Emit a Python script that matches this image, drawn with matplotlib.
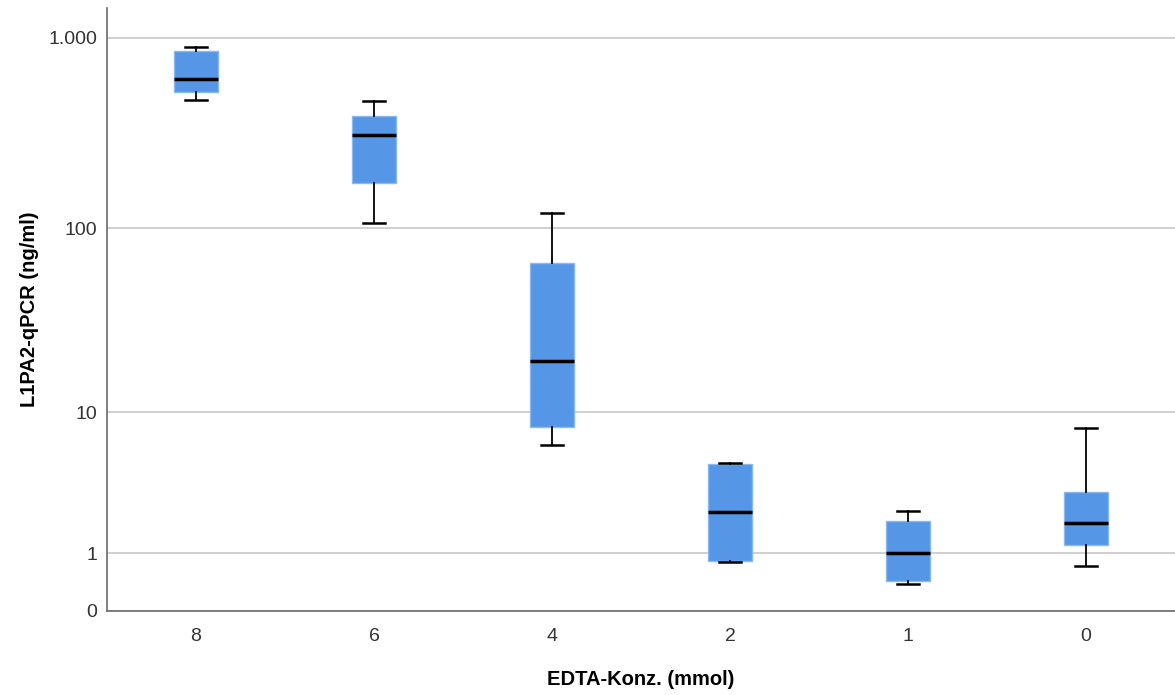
import numpy as np
import matplotlib.pyplot as plt

plt.rcParams['font.family'] = ['Liberation Sans', 'DejaVu Sans']

# data (ng/ml)
groups = ["8", "6", "4", "2", "1", "0"]
whis_lo = [473, 106, 6.4, 0.81, 0.38, 0.72]
q1 = [521, 173, 8.2, 0.83, 0.44, 1.22]
med = [610, 310, 19.4, 2.30, 1.00, 1.90]
q3 = [855, 390, 65, 4.9, 1.96, 3.2]
whis_hi = [897, 468, 120, 4.96, 2.34, 8.1]

ytick_vals = [0, 1, 10, 100, 1000]
ytick_labels = ["0", "1", "10", "100", "1.000"]

def fwd(y):
    return np.log10(np.clip(y, 0, None) + 1)

def inv(y):
    return 10 ** y - 1

fig = plt.figure(figsize=(11.75, 6.95), dpi=100)
ax = fig.add_axes([0.0911, 0.1209, 0.9089, 0.8676])
ax.set_yscale('function', functions=(fwd, inv))

stats = []
for i in range(len(groups)):
    stats.append(dict(label=groups[i], whislo=whis_lo[i], q1=q1[i], med=med[i],
                      q3=q3[i], whishi=whis_hi[i], fliers=[]))

ax.bxp(stats, positions=np.arange(len(groups)), widths=0.25, patch_artist=True,
       showfliers=False,
       boxprops=dict(facecolor='#5596e6', edgecolor='#8ab8f0', linewidth=1),
       medianprops=dict(color='black', linewidth=2.5),
       whiskerprops=dict(color='black', linewidth=1.3),
       capprops=dict(color='black', linewidth=1.8),
       capwidths=0.125)

ax.set_xlim(-0.5, len(groups) - 0.5)
ax.set_ylim(0, 1435)
ax.set_yticks(ytick_vals)
ax.set_yticklabels(ytick_labels)
ax.yaxis.grid(True, color='#c8c8c8', linewidth=1.2)
ax.set_axisbelow(True)

for s in ['top', 'right']:
    ax.spines[s].set_visible(False)
for s in ['left', 'bottom']:
    ax.spines[s].set_color('#6a6a6a')
    ax.spines[s].set_linewidth(1.2)

ax.tick_params(axis='both', length=0, labelsize=14, labelcolor='#333333')
ax.tick_params(axis='x', pad=12)
ax.tick_params(axis='y', pad=7)

ax.set_xlabel("EDTA-Konz. (mmol)", fontsize=14.5, fontweight='bold', labelpad=18)
ax.set_ylabel("L1PA2-qPCR (ng/ml)", fontsize=14.5, fontweight='bold', labelpad=7)

fig.savefig("out.png", dpi=100)
